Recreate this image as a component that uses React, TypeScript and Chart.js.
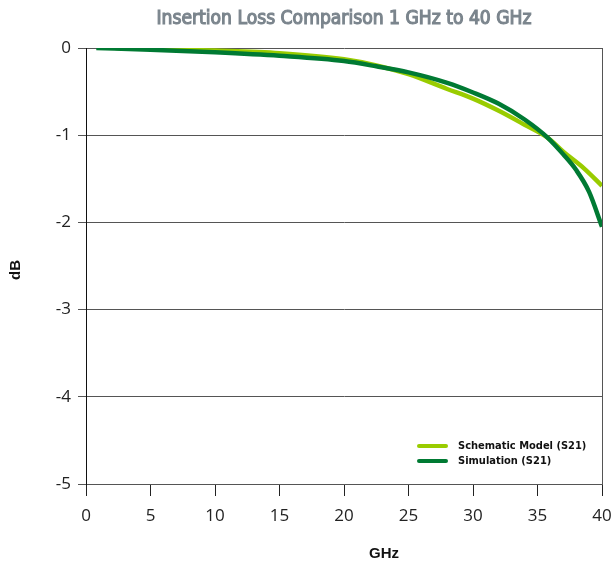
import React, { useEffect, useRef } from "react";
import { Chart, registerables } from "chart.js";

Chart.register(...registerables);

const titleText = "Insertion Loss Comparison 1 GHz to 40 GHz";
const xTitle = "GHz";
const yTitle = "dB";
const seriesNames = ["Schematic Model (S21)", "Simulation (S21)"];
const seriesColors = ["#99cc00", "#007a33"];

const schematicX = [2.3, 5, 10, 15, 20, 22.5, 25, 28, 30, 32, 34, 35.8, 37, 38.6, 40];
const schematicY = [0, -0.01, -0.03, -0.06, -0.13, -0.2, -0.3, -0.47, -0.58, -0.72, -0.88, -1.03, -1.19, -1.38, -1.58];

const simulationX = [0.8, 5, 10, 15, 20, 22.5, 25, 28, 30, 32, 34, 35.8, 37, 38, 39, 40];
const simulationY = [0, -0.02, -0.05, -0.09, -0.15, -0.21, -0.28, -0.4, -0.51, -0.64, -0.82, -1.03, -1.22, -1.4, -1.65, -2.05];

const xTicks = [0, 5, 10, 15, 20, 25, 30, 35, 40];
const yTicks = [0, -1, -2, -3, -4, -5];

const toPoints = (xs: number[], ys: number[]) => xs.map((x, i) => ({ x, y: ys[i] }));

export default function App() {
  const ref = useRef<HTMLCanvasElement | null>(null);

  useEffect(() => {
    document.body.style.margin = "0";
    const canvas = ref.current;
    if (!canvas) return;

    const overlay = {
      id: "overlay",
      afterDraw(chart: any) {
        const ctx = chart.ctx as CanvasRenderingContext2D;
        const a = chart.chartArea;
        ctx.save();
        // right frame line
        ctx.strokeStyle = "#555555";
        ctx.lineWidth = 1;
        ctx.beginPath();
        ctx.moveTo(a.right + 0.5, a.top);
        ctx.lineTo(a.right + 0.5, a.bottom);
        ctx.stroke();

        // title (medium weight, slightly condensed)
        ctx.fillStyle = "#7b858d";
        ctx.strokeStyle = "#7b858d";
        ctx.lineWidth = 1.1;
        ctx.font = "19px 'DejaVu Sans Condensed', sans-serif";
        ctx.textAlign = "center";
        ctx.textBaseline = "alphabetic";
        const w = ctx.measureText(titleText).width;
        const sx = 375 / w;
        ctx.save();
        ctx.translate(344, 24);
        ctx.scale(sx, 1);
        ctx.fillText(titleText, 0, 0);
        ctx.strokeText(titleText, 0, 0);
        ctx.restore();

        // axis titles
        ctx.textBaseline = "middle";
        ctx.fillStyle = "#111111";
        ctx.font = "bold 15px 'Liberation Sans', Arial, sans-serif";
        ctx.fillText(xTitle, 384, 554);
        ctx.save();
        ctx.translate(16, 270);
        ctx.rotate(-Math.PI / 2);
        ctx.fillText(yTitle, 0, 0);
        ctx.restore();

        // legend
        ctx.font = "bold 11px 'DejaVu Sans Condensed', sans-serif";
        ctx.textAlign = "left";
        ctx.lineCap = "round";
        const rows = [446, 461];
        seriesNames.forEach((name, i) => {
          ctx.strokeStyle = seriesColors[i];
          ctx.lineWidth = 4;
          ctx.beginPath();
          ctx.moveTo(419, rows[i]);
          ctx.lineTo(446, rows[i]);
          ctx.stroke();
          ctx.fillStyle = "#111111";
          ctx.fillText(name, 458, rows[i]);
        });
        ctx.restore();
      },
    };

    const chart = new Chart(canvas, {
      type: "line",
      data: {
        datasets: [
          {
            label: seriesNames[1],
            data: toPoints(simulationX, simulationY),
            borderColor: seriesColors[1],
            borderWidth: 4.5,
            pointRadius: 0,
            cubicInterpolationMode: "monotone",
            fill: false,
          },
          {
            label: seriesNames[0],
            data: toPoints(schematicX, schematicY),
            borderColor: seriesColors[0],
            borderWidth: 4.5,
            pointRadius: 0,
            cubicInterpolationMode: "monotone",
            fill: false,
          },
        ],
      },
      options: {
        animation: false,
        responsive: false,
        maintainAspectRatio: false,
        layout: { padding: { left: 0, right: 9, top: 48, bottom: 0 } },
        plugins: {
          legend: { display: false },
          title: { display: false },
          tooltip: { enabled: false },
        },
        scales: {
          x: {
            type: "linear",
            min: 0,
            max: 40,
            afterFit: (s: any) => {
              s.height = 79;
              s.paddingLeft = 0;
              s.paddingRight = 0;
            },
            afterBuildTicks: (s: any) => {
              s.ticks = xTicks.map((v) => ({ value: v }));
            },
            grid: {
              drawOnChartArea: false,
              drawTicks: true,
              tickLength: 12,
              color: "#222222",
            },
            border: { display: true, color: "#555555" },
            ticks: {
              padding: 10,
              color: "#222222",
              font: { family: "'Open Sans', sans-serif", size: 17 },
              maxRotation: 0,
            },
          },
          y: {
            type: "linear",
            min: -5,
            max: 0,
            afterFit: (s: any) => {
              s.width = 86;
            },
            afterBuildTicks: (s: any) => {
              s.ticks = yTicks.map((v) => ({ value: v }));
            },
            grid: {
              drawOnChartArea: true,
              drawTicks: true,
              tickLength: 8,
              color: "#555555",
            },
            border: { display: true, color: "#111111" },
            ticks: {
              padding: 7,
              color: "#222222",
              font: { family: "'Open Sans', sans-serif", size: 17 },
            },
          },
        },
      },
      plugins: [overlay],
    } as any);

    return () => chart.destroy();
  }, []);

  return (
    <div style={{ position: "relative", width: 611, height: 563 }}>
      <canvas ref={ref} width={611} height={563} style={{ display: "block" }} />
    </div>
  );
}
